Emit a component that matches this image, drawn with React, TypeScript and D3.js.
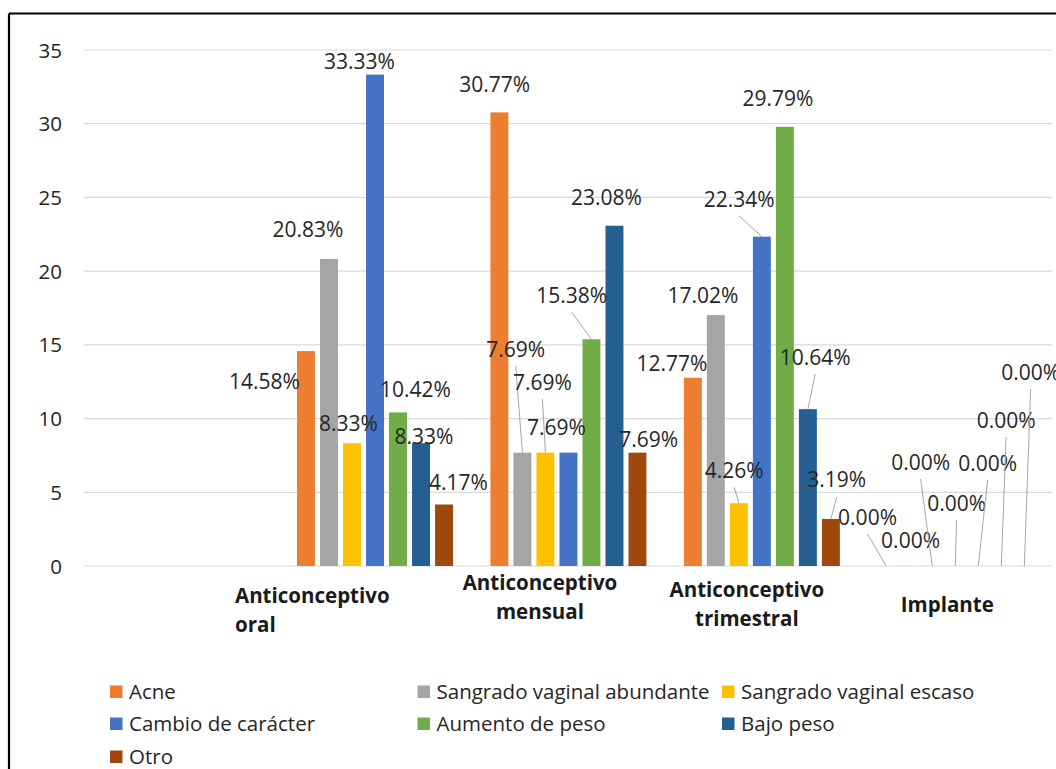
import React from "react";
import * as d3 from "d3";

const categories = [
  "Anticonceptivo oral",
  "Anticonceptivo mensual",
  "Anticonceptivo trimestral",
  "Implante",
];
const categoryLines = [
  ["Anticonceptivo", "oral"],
  ["Anticonceptivo", "mensual"],
  ["Anticonceptivo", "trimestral"],
  ["Implante"],
];
const seriesNames = [
  "Acne",
  "Sangrado vaginal abundante",
  "Sangrado vaginal escaso",
  "Cambio de carácter",
  "Aumento de peso",
  "Bajo peso",
  "Otro",
];
const seriesColors = ["#ED7D31", "#A5A5A5", "#FFC000", "#4472C4", "#70AD47", "#255E91", "#9E480E"];

const acne = [14.58, 30.77, 12.77, 0];
const sangradoAbundante = [20.83, 7.69, 17.02, 0];
const sangradoEscaso = [8.33, 7.69, 4.26, 0];
const cambioCaracter = [33.33, 7.69, 22.34, 0];
const aumentoPeso = [10.42, 15.38, 29.79, 0];
const bajoPeso = [8.33, 23.08, 10.64, 0];
const otro = [4.17, 7.69, 3.19, 0];
const seriesValues = [acne, sangradoAbundante, sangradoEscaso, cambioCaracter, aumentoPeso, bajoPeso, otro];

const yTicks = [0, 5, 10, 15, 20, 25, 30, 35];

// label placement (dx from bar centre, dy of label centre from bar top, leader line?)
const labelLayout: [number, number, boolean][][] = [
  [[-41.5, 30, false], [-21, -29, false], [-3.5, -20, false], [-15.5, -13.6, false], [17.5, -23, false], [3, -7, false], [14.5, -22.5, false]],
  [[-4.7, -28, false], [-6.7, -103.6, true], [-3, -70.6, true], [-12, -25.6, false], [-19.7, -44, true], [-8, -28.7, false], [11.3, -13.6, false]],
  [[-21, -14.7, false], [-13, -20, false], [-4.7, -33, true], [-22.7, -37.6, true], [-7, -28, false], [7.3, -52, true], [5.8, -39, true]],
  [[-18.7, -49, true], [1.3, -26, false], [-11.7, -104, true], [1.3, -63, true], [9.3, -103, true], [4.8, -146, true], [6.3, -194, true]],
];
const catLabelLayout = [
  { dx: -140, anchor: "start", y: 603 },
  { dx: -28.5, anchor: "middle", y: 590 },
  { dx: -15, anchor: "middle", y: 597 },
  { dx: -8, anchor: "middle", y: 612 },
];

const W = 1056;
const H = 769;
const FONT = "'Open Sans', 'DejaVu Sans', sans-serif";

export default function App() {
  const plotLeft = 84;
  const plotRight = 1052;
  const y = d3.scaleLinear().domain([0, 35]).range([566, 50]);
  const x0 = d3.scaleBand<string>().domain(categories).range([278.3, 1052]).padding(0);
  const groupW = 156;
  const x1 = d3.scaleBand<string>().domain(seriesNames).range([0, groupW]).paddingInner(0.22).paddingOuter(0);
  const groupOffset = (x0.bandwidth() - groupW) / 2;
  const bw = x1.bandwidth();

  const bars: any[] = [];
  const labels: any[] = [];
  categories.forEach((c, ci) => {
    seriesNames.forEach((s, si) => {
      const v = seriesValues[si][ci];
      const bx = (x0(c) as number) + groupOffset + (x1(s) as number);
      const cx = bx + bw / 2;
      const top = y(v);
      bars.push(
        <rect key={`b-${ci}-${si}`} x={bx} y={top} width={bw} height={y(0) - top} fill={seriesColors[si]} />
      );
      const [dx, dy, leader] = labelLayout[ci][si];
      const lx = cx + dx;
      const ly = top + dy;
      if (leader) {
        labels.push(
          <line key={`l-${ci}-${si}`} x1={lx} y1={ly + 17} x2={cx} y2={top} stroke="#A6A6A6" strokeWidth={1} />
        );
      }
      labels.push(
        <text key={`t-${ci}-${si}`} x={lx} y={ly + 7.5} textAnchor="middle" fontSize={21} fill="#262626" fontFamily={FONT}>
          {v.toFixed(2) + "%"}
        </text>
      );
    });
  });

  const legendCols = [110, 417.5, 722];
  const legendRows = [691.5, 723.5, 756.5];

  return (
    <svg width={W} height={H} style={{ position: "absolute", left: 0, top: 0, background: "#fff" }}>
      <rect x={0} y={0} width={W} height={H} fill="#fff" />
      {/* frame */}
      <line x1={9} y1={13.5} x2={W} y2={13.5} stroke="#000" strokeWidth={2.2} />
      <line x1={9} y1={13.5} x2={9} y2={H} stroke="#000" strokeWidth={2.2} />
      {/* gridlines */}
      {yTicks.map((t) => (
        <line key={`g-${t}`} x1={plotLeft} x2={plotRight} y1={y(t)} y2={y(t)} stroke="#D9D9D9" strokeWidth={1.2} />
      ))}
      {yTicks.map((t) => (
        <text key={`yt-${t}`} x={62} y={y(t) + 7.5} textAnchor="end" fontSize={20.5} fill="#262626" fontFamily={FONT}>
          {t}
        </text>
      ))}
      {bars}
      {labels}
      {categories.map((c, ci) => {
        const lay = catLabelLayout[ci];
        const cx = (x0(c) as number) + x0.bandwidth() / 2 + lay.dx;
        return (
          <text key={`c-${ci}`} textAnchor={lay.anchor as any} fontSize={20.5} fontWeight="bold" fill="#1a1a1a" fontFamily={FONT}>
            {categoryLines[ci].map((ln, li) => (
              <tspan key={li} x={cx} y={lay.y + li * 29}>
                {ln}
              </tspan>
            ))}
          </text>
        );
      })}
      {seriesNames.map((s, si) => {
        const col = si % 3;
        const row = Math.floor(si / 3);
        const lx = legendCols[col];
        const ly = legendRows[row];
        return (
          <g key={`lg-${si}`}>
            <rect x={lx} y={ly - 6} width={12.5} height={12.5} fill={seriesColors[si]} />
            <text x={lx + 19} y={ly + 7.5} fontSize={20.5} fill="#262626" fontFamily={FONT}>
              {s}
            </text>
          </g>
        );
      })}
    </svg>
  );
}
